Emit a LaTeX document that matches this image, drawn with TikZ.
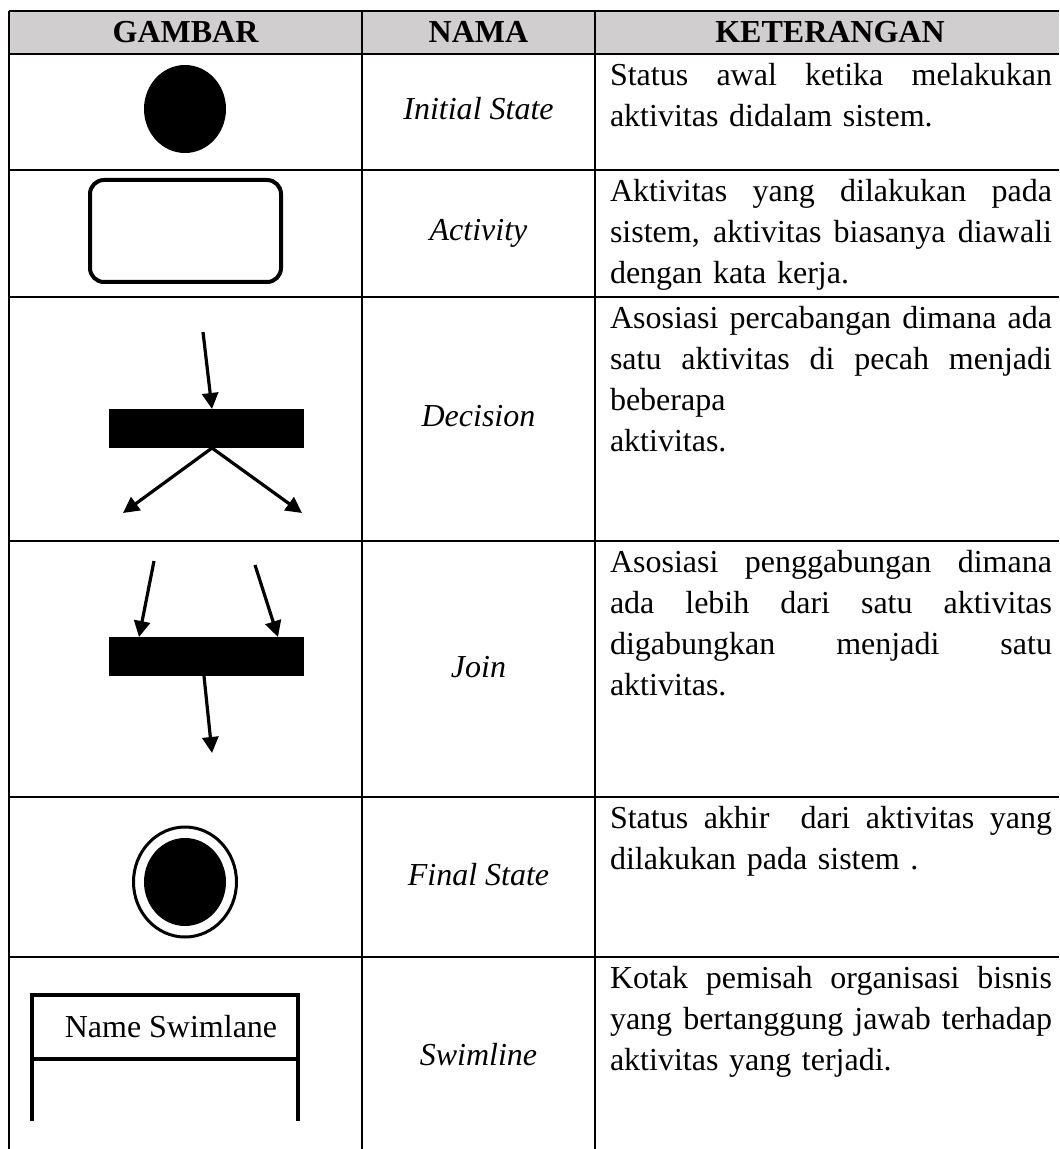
\documentclass[tikz,border=0pt]{standalone}
\usepackage{fontspec}
\setmainfont{Liberation Serif}
\usetikzlibrary{arrows.meta}
\usetikzlibrary{shapes}
\setlength{\parindent}{0pt}
\definecolor{headgray}{RGB}{208,206,206}
\newcommand{\jl}[1]{\leavevmode\hbox to 221pt{\spaceskip=.25em plus 1fil\xspaceskip=.25em plus 1fil\relax #1}}

\begin{document}
\begin{tikzpicture}[x=0.5pt, y=-0.5pt,
  every node/.style={font=\fontsize{16}{20.5}\selectfont, inner sep=0pt, outer sep=0pt},
  grid/.style={line width=1pt},
  judul/.style={font=\fontsize{16}{20}\selectfont\bfseries},
  nama/.style={anchor=base, font=\fontsize{16}{20}\selectfont\itshape},
  ket/.style={anchor=north west, text width=221pt, align=left},
  forkbar/.style={fill, minimum width=97.5pt, minimum height=19.5pt},
  panah/.style={line width=1.6pt, -{Triangle[length=8pt,width=8pt]}},
  tebal/.style={line width=2pt}]
\useasboundingbox (0,0) rectangle (1059,1149);

% tabel
\fill[headgray] (9,11) rectangle (1059,54);
\foreach \y in {11,54,170,297,541,797,957}
  \draw[grid] (9,\y) -- (1059,\y);
\foreach \x in {9,362,595}
  \draw[grid] (\x,11) -- (\x,1149);

\node[judul] (h1) at (185.5,32) {GAMBAR};
\node[judul] (h2) at (478.5,32) {NAMA};
\node[judul] (h3) at (830,32) {KETERANGAN};

\node[nama] (n1) at (478.5,120) {Initial State};
\node[nama] (n2) at (478.5,241) {Activity};
\node[nama] (n3) at (478.5,427) {Decision};
\node[nama] (n4) at (478.5,677) {Join};
\node[nama] (n5) at (478.5,885) {Final State};
\node[nama] (n6) at (478.5,1065) {Swimline};

\node[ket] (k1) at (610,57) {\strut\jl{Status awal ketika melakukan}\\aktivitas didalam sistem.};
\node[ket] (k2) at (610,173) {\strut\jl{Aktivitas yang dilakukan pada}\\\jl{sistem, aktivitas biasanya diawali}\\dengan kata kerja.};
\node[ket] (k3) at (610,300) {\strut\jl{Asosiasi percabangan dimana ada}\\\jl{satu aktivitas di pecah menjadi}\\beberapa\\aktivitas.};
\node[ket] (k4) at (610,544) {\strut\jl{Asosiasi penggabungan dimana}\\\jl{ada lebih dari satu aktivitas}\\\jl{digabungkan menjadi satu}\\aktivitas.};
\node[ket] (k5) at (610,800) {\strut\jl{Status akhir\ \ dari aktivitas yang}\\dilakukan pada sistem .};
\node[ket] (k6) at (610,960) {\strut\jl{Kotak pemisah organisasi bisnis}\\\jl{yang bertanggung jawab terhadap}\\aktivitas yang terjadi.};

% gambar
\node[ellipse, fill, minimum width=41pt, minimum height=44pt] (init) at (185,109) {};

\node[draw, tebal, rounded corners=7pt, minimum width=95.5pt, minimum height=51pt] (act) at (185.5,231) {};

\node[forkbar] (dbar) at (206.5,428.5) {};
\coordinate (d0) at (203,332);
\coordinate (d1) at (123,513);
\coordinate (d2) at (302,513);
\draw[panah] (d0) -- ([xshift=2.75pt]dbar.north);
\draw[panah] ([xshift=2.75pt]dbar.south) -- (d1);
\draw[panah] ([xshift=2.75pt]dbar.south) -- (d2);

\node[forkbar] (jbar) at (206.5,656.5) {};
\coordinate (j1) at (154,561);
\coordinate (j2) at (255,565);
\coordinate (j3) at (212,753);
\draw[panah] (j1) -- ([xshift=-33.75pt]jbar.north);
\draw[panah] (j2) -- ([xshift=35.75pt]jbar.north);
\draw[panah] ([xshift=-1.25pt]jbar.south) -- (j3);

\node[ellipse, draw, line width=1.5pt, minimum width=51.5pt, minimum height=55pt] (akhir) at (185,882) {};
\node[ellipse, fill, minimum width=41pt, minimum height=44pt] (akhirdot) at (akhir) {};

\node[draw, tebal, minimum width=133pt, minimum height=32pt] (lane) at (165,1027) {\hspace*{6pt}Name Swimlane};
\coordinate (l1) at (32,1121);
\coordinate (l2) at (298,1121);
\draw[tebal] (lane.south west) -- (l1);
\draw[tebal] (lane.south east) -- (l2);
\end{tikzpicture}
\end{document}
